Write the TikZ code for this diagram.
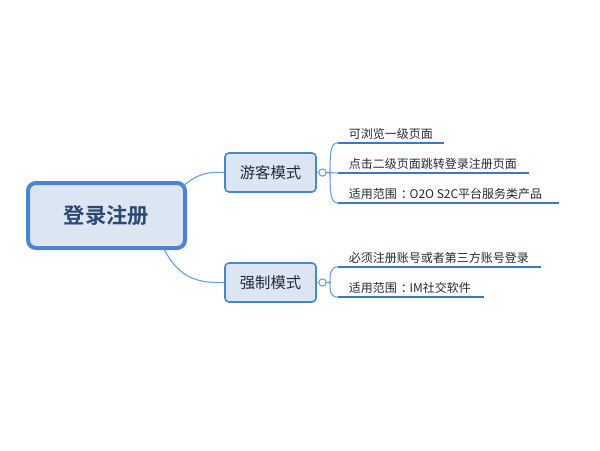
\documentclass[tikz,border=0pt]{standalone}
\usepackage{fontspec}
\setmainfont{Noto Sans CJK SC}[BoldFont={Noto Sans CJK SC Bold}]
\begin{document}
\begin{tikzpicture}[x=0.75pt,y=-0.75pt,
  root/.style={draw=rootblue,line width=3pt,fill=boxfill,rounded corners=6pt,minimum width=117.75pt,minimum height=48.75pt,font=\fontsize{16}{16}\selectfont\bfseries,text=roottext,inner sep=0pt},
  branch/.style={draw=rootblue,line width=1.2pt,fill=boxfill,rounded corners=3pt,minimum width=68.25pt,minimum height=29.25pt,font=\fontsize{11.5}{12}\selectfont,text=darktext,inner sep=0pt},
  leaf/.style={anchor=south west,font=\fontsize{9}{10}\selectfont,text=darktext,inner sep=1pt},
  uline/.style={draw=lineblue,line width=1.6pt},
  conn/.style={draw=connblue,line width=0.8pt},
  knob/.style={circle,draw=connblue,fill=white,line width=0.8pt,minimum size=5.5pt,inner sep=0pt}]
\definecolor{rootblue}{HTML}{4A86D0}
\definecolor{boxfill}{HTML}{DCE6F3}
\definecolor{roottext}{HTML}{2B4A73}
\definecolor{darktext}{HTML}{222A35}
\definecolor{lineblue}{HTML}{3D78C8}
\definecolor{connblue}{HTML}{6C9BD8}
\useasboundingbox[fill=white] (0,0) rectangle (600,450);

\node[root] (root) at (106.5,215.5) {登录注册};
\node[branch] (b1) at (270.5,172.5) {游客模式};
\node[branch] (b2) at (270.5,282.5) {强制模式};

\coordinate (r1) at (183,186);
\coordinate (r2) at (164,249);
\draw[conn] (r1) .. controls (200,172) and (210,172) .. (b1.west);
\draw[conn] (r2) .. controls (180,280) and (200,283) .. (b2.west);

\node[knob] (k1) at (322.5,172.5) {};
\node[knob] (k2) at (322.5,282.5) {};
\draw[conn] (b1.east) -- (k1.west);
\draw[conn] (b2.east) -- (k2.west);

\coordinate (u1s) at (338,143); \coordinate (u1e) at (444,143);
\coordinate (u2s) at (338,173); \coordinate (u2e) at (529,173);
\coordinate (u3s) at (338,203); \coordinate (u3e) at (559,203);
\coordinate (u4s) at (338,267); \coordinate (u4e) at (541,267);
\coordinate (u5s) at (338,297); \coordinate (u5e) at (484,297);
\draw[uline] (u1s) -- (u1e);
\draw[uline] (u2s) -- (u2e);
\draw[uline] (u3s) -- (u3e);
\draw[uline] (u4s) -- (u4e);
\draw[uline] (u5s) -- (u5e);
\node[leaf] (l1) at ([xshift=7pt,yshift=1.5pt]u1s) {可浏览一级页面};
\node[leaf] (l2) at ([xshift=7pt,yshift=1.5pt]u2s) {点击二级页面跳转登录注册页面};
\node[leaf] (l3) at ([xshift=7pt,yshift=1.5pt]u3s) {适用范围\kern3pt：\kern-2.5pt O2O S2C平台服务类产品};
\node[leaf] (l4) at ([xshift=7pt,yshift=1.5pt]u4s) {必须注册账号或者第三方账号登录};
\node[leaf] (l5) at ([xshift=7pt,yshift=1.5pt]u5s) {适用范围\kern3pt：\kern-2.5pt IM社交软件};

\draw[conn] (k1.east) -- (u2s);
\draw[conn] (k1.east) -- (330,172.5) .. controls (330,150) and (331,143) .. (u1s);
\draw[conn] (k1.east) -- (330,172.5) .. controls (330,195) and (331,203) .. (u3s);
\draw[conn] (k2.east) -- (330,282.5) .. controls (330,272) and (331,267) .. (u4s);
\draw[conn] (k2.east) -- (330,282.5) .. controls (330,293) and (331,297) .. (u5s);
\end{tikzpicture}
\end{document}
